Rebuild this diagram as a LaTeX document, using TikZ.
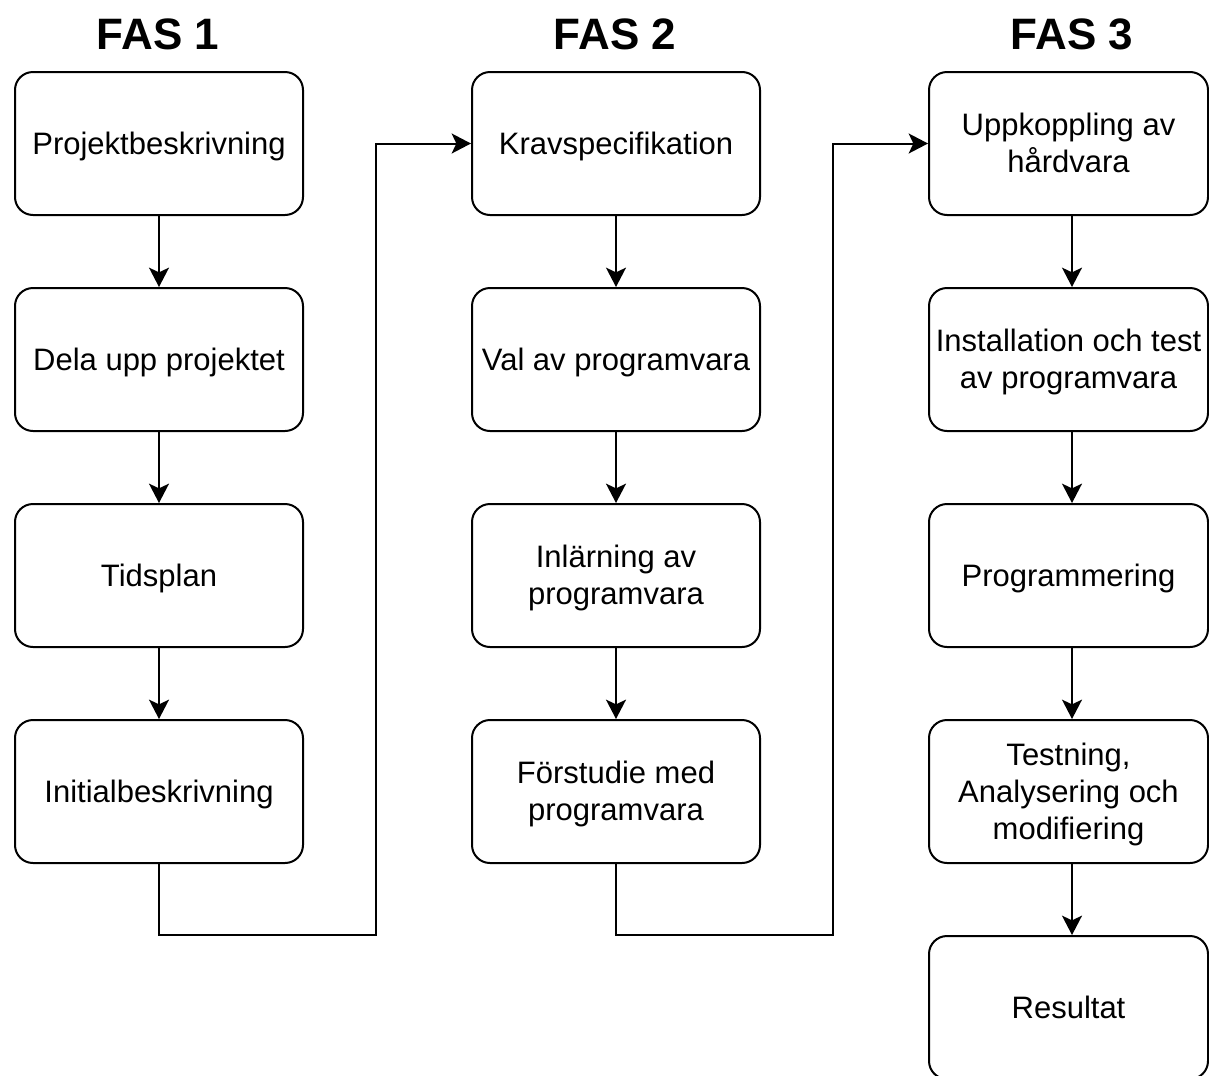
\documentclass[tikz,border=0pt]{standalone}
\usepackage{fontspec}
\setmainfont{Liberation Sans}
\usetikzlibrary{arrows.meta}
% line strut: ascent 0.9465em, descent 0.2535em, giving a 1.2em line box
\newcommand\ls{\vrule height 0.9465em depth 0.2535em width 0pt}
\begin{document}
\begin{tikzpicture}[x=0.75pt,y=-0.75pt,
  stage/.style={draw, line width=1.5pt, rounded corners=13.5pt,
    minimum width=216pt, minimum height=107.25pt, inner sep=0pt,
    align=center, font=\fontsize{23.25}{27.9}\selectfont},
  stagenarrow/.style={stage, minimum width=209.25pt},
  phase/.style={anchor=base, inner sep=0pt, font=\fontsize{33}{40}\selectfont\bfseries},
  flow/.style={line width=1.5pt, line join=miter,
    -{Stealth[length=14.5pt,width=15pt,inset=3.5pt]}}]
\clip (0,0) rectangle (1209,1075);

% phase headings
\node[phase] (h1) at (158,49) {FAS 1};
\node[phase] (h2) at (615,49) {FAS 2};
\node[phase] (h3) at (1072,49) {FAS 3};

% phase 1
\node[stage] (a1) at (159,143.5) {\ls Projektbeskrivning};
\node[stage] (a2) at (159,359.5) {\ls Dela upp projektet};
\node[stage] (a3) at (159,575.5) {\ls Tidsplan};
\node[stage] (a4) at (159,791.5) {\ls Initialbeskrivning};

% phase 2
\node[stage] (b1) at (616,143.5) {\ls Kravspecifikation};
\node[stage] (b2) at (616,359.5) {\ls Val av programvara};
\node[stage] (b3) at (616,575.5) {\ls Inlärning av\\\ls programvara};
\node[stage] (b4) at (616,791.5) {\ls Förstudie med\\\ls programvara};

% phase 3
\node[stagenarrow] (c1) at (1068.5,143.5) {\ls Uppkoppling av\\\ls hårdvara};
\node[stagenarrow] (c2) at (1068.5,359.5) {\ls Installation och test\\\ls av programvara};
\node[stagenarrow] (c3) at (1068.5,575.5) {\ls Programmering};
\node[stagenarrow] (c4) at (1068.5,791.5) {\ls Testning,\\\ls Analysering och\\\ls modifiering};
\node[stagenarrow] (c5) at (1068.5,1007.5) {\ls Resultat};

% arrows within each phase
\draw[flow] (a1) -- (a2);
\draw[flow] (a2) -- (a3);
\draw[flow] (a3) -- (a4);
\draw[flow] (b1) -- (b2);
\draw[flow] (b2) -- (b3);
\draw[flow] (b3) -- (b4);
\draw[flow] (c1.south -| h3) -- (c2.north -| h3);
\draw[flow] (c2.south -| h3) -- (c3.north -| h3);
\draw[flow] (c3.south -| h3) -- (c4.north -| h3);
\draw[flow] (c4.south -| h3) -- (c5.north -| h3);

% hand-over from one phase to the next
\coordinate (j1) at (376,935);
\coordinate (j2) at (833,935);
\draw[flow] (a4.south) |- (j1) |- (b1.west);
\draw[flow] (b4.south) |- (j2) |- (c1.west);
\end{tikzpicture}
\end{document}
